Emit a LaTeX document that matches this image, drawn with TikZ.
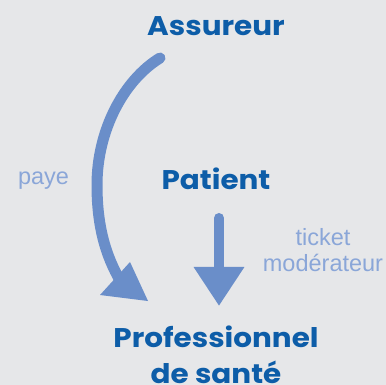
\documentclass[tikz,border=0pt]{standalone}
\usepackage{fontspec}
\usetikzlibrary{arrows.meta}
\newfontfamily\titlefont[FakeStretch=1.09]{Poppins}
\newfontfamily\labelfont{Liberation Sans}
\definecolor{bg}{HTML}{E6E7E9}
\definecolor{arrowblue}{HTML}{6A8EC9}
\definecolor{titleblue}{HTML}{0D5DA8}
\definecolor{labelblue}{HTML}{8AA6D8}
\tikzset{
  title/.style={font=\titlefont\bfseries\fontsize{27}{36}\selectfont, text=titleblue, inner sep=0pt, anchor=base, align=center},
  lbl/.style={font=\labelfont\fontsize{23.5}{26}\selectfont, text=labelblue, inner sep=0pt, anchor=base, align=center},
  shaft/.style={draw=arrowblue, line width=10pt, line cap=round}
}
\begin{document}
\begin{tikzpicture}[x=1pt,y=-1pt]
\fill[bg] (0,0) rectangle (386,385);
\useasboundingbox (0,0) rectangle (386,385);
\node[title] (a) at (216,36) {Assureur};
\node[title] (p) at (216,190) {Patient};
\node[title] (ps) at (216,383) {Professionnel\\de santé};
\node[lbl] (paye) at (43.5,185) {paye};
\node[lbl] (tm) at (323,272) {ticket\\modérateur};
% curved arrow
\coordinate (cs) at (160,58);
\coordinate (ce) at (121,282);
\coordinate (h1) at (130,262);
\coordinate (h2) at (100,295);
\coordinate (h3) at (148,301);
\draw[shaft, line width=11pt] (cs) .. controls (124,80) and (97,130) .. (97,185) .. controls (97,225) and (105,255) .. (ce);
\fill[arrowblue] (h1) -- (h2) -- (h3) -- cycle;
% straight arrow
\coordinate (ss) at (219,218);
\coordinate (st) at (219,306);
\draw[shaft, -{Triangle[length=39pt,width=48pt]}, arrowblue] (ss) -- (st);
\end{tikzpicture}
\end{document}
